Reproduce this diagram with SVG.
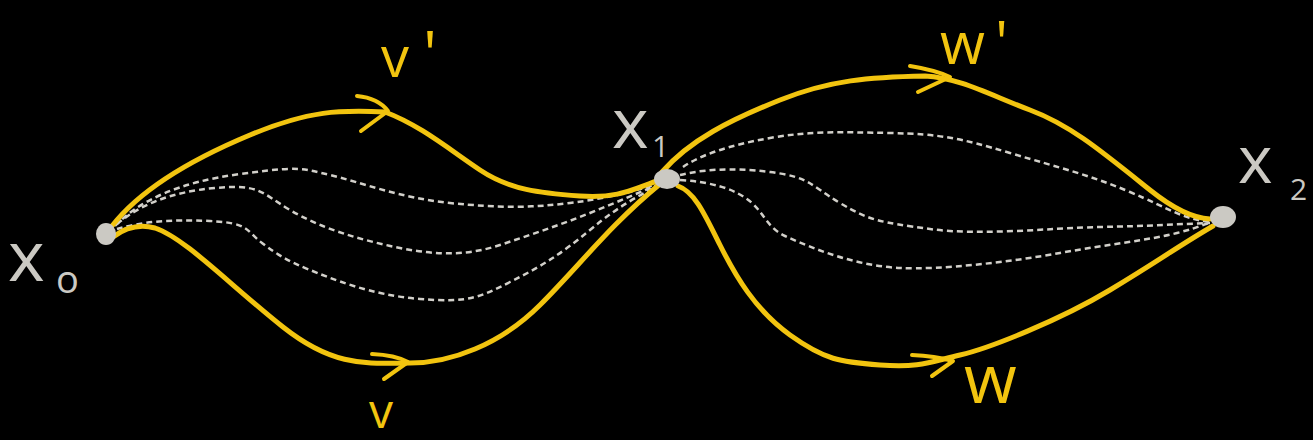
<svg xmlns="http://www.w3.org/2000/svg" width="1313" height="440" viewBox="0 0 1313 440">
<style>
.path{fill:none;stroke:#f2c40f;stroke-width:5;stroke-linecap:round;stroke-linejoin:round}
.arrow{fill:none;stroke:#f2c40f;stroke-width:4;stroke-linecap:round;stroke-linejoin:round}
.dash{fill:none;stroke:#d2d0ca;stroke-width:2.5;stroke-dasharray:6 4}
.node{fill:#cbc9c3}
.lbl{font-family:"Open Sans","DejaVu Sans",sans-serif;fill:#cbc9c3}
.ylbl{font-family:"Open Sans","DejaVu Sans",sans-serif;fill:#f2c40f}
</style>
<rect width="1313" height="440" fill="#000"/>
<g id="connectors">
<path class="dash" d="M115,226 C140,200 180,182 240,174 S300,168 330,175 S400,198 450,203 S530,208 570,203 S640,190 662,182"/>
<path class="dash" d="M117,224 C140,205 170,192 215,188 S260,192 290,210 S360,240 400,248 S470,255 500,245 S560,225 590,213 S640,192 662,183"/>
<path class="dash" d="M117,229 C140,222 170,219 210,221 S245,230 262,243 S290,262 310,270 S370,295 420,299 S480,297 510,282 S560,255 590,230 S640,195 662,184"/>
<path class="dash" d="M683,167 C700,155 730,145 770,138 S840,132 890,133 S960,138 1010,153 S1090,175 1130,192 S1180,218 1210,222"/>
<path class="dash" d="M680,175 C700,170 730,167 770,172 S810,185 840,203 S880,222 930,229 S1050,228 1100,227 S1180,224 1210,223"/>
<path class="dash" d="M680,180 C710,182 735,188 752,203 C765,215 768,228 785,236 C820,252 860,266 900,268 S1010,262 1060,253 S1150,240 1177,233 S1200,225 1210,223"/>
<path id="v-prime" class="path" d="M112,226 C140,190 190,160 250,135 S340,110 385,112 C420,125 450,150 480,170 S540,193 580,196 S635,188 660,180"/>
<path id="v" class="path" d="M113,237 C125,228 140,224 155,228 C185,238 230,285 283,327 S370,363 410,363 S500,345 540,305 S610,225 660,184"/>
<path id="w-prime" class="path" d="M662,172 C690,140 730,120 780,100 S870,77 925,76 C960,78 990,95 1030,110 S1100,150 1150,190 C1170,206 1190,218 1210,219"/>
<path id="w" class="path" d="M678,186 C695,192 705,215 720,245 S755,310 790,335 S840,362 880,365 S930,362 960,355 S1060,320 1110,290 S1180,245 1213,226"/>
<path class="arrow" d="M357,96 Q378,98 388,111 L361,131"/>
<path class="arrow" d="M372,354 Q395,355 408,362 L384,379"/>
<path class="arrow" d="M910,66 Q935,70 950,77 L918,92"/>
<path class="arrow" d="M912,355 Q935,356 953,361 L932,376"/>
</g>
<g id="x0">
<ellipse class="node" cx="106" cy="234" rx="10" ry="11"/>
<text class="lbl" x="8" y="281" font-size="70">x</text>
<text class="lbl" x="56" y="293" font-size="38">o</text>
</g>
<g id="x1">
<ellipse class="node" cx="667" cy="179" rx="13" ry="10"/>
<text class="lbl" x="612" y="148" font-size="70">x</text>
<text class="lbl" x="652" y="157" font-size="30">1</text>
</g>
<g id="x2">
<ellipse class="node" cx="1223" cy="217" rx="13" ry="11"/>
<text class="lbl" x="1238" y="183" font-size="66">x</text>
<text class="lbl" x="1290" y="200" font-size="30">2</text>
</g>
<g id="labels">
<text class="ylbl" x="381" y="77" font-size="56">v<tspan dx="14" font-size="64">'</tspan></text>
<text class="ylbl" x="369" y="428" font-size="48">v</text>
<text class="ylbl" x="940" y="64" font-size="58">w<tspan dx="10" font-size="60">'</tspan></text>
<text class="ylbl" x="964" y="403" font-size="68">w</text>
</g>
</svg>
